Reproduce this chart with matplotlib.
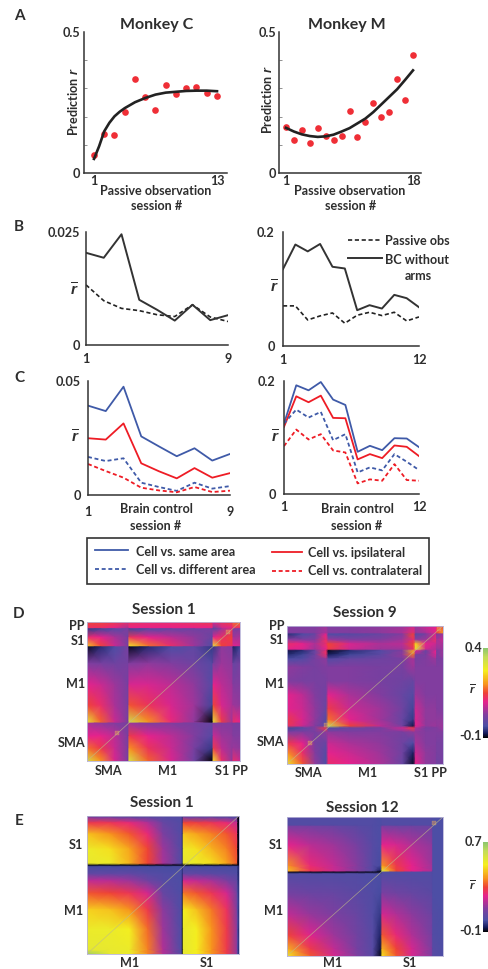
import numpy as np
import matplotlib
matplotlib.use("Agg")
import matplotlib.pyplot as plt
from matplotlib.colors import LinearSegmentedColormap
from matplotlib.cm import ScalarMappable
from matplotlib.colors import Normalize
from matplotlib.patches import Rectangle

W, H = 489, 969
FONT = "Lato"
plt.rcParams["font.family"] = [FONT, "DejaVu Sans"]
plt.rcParams["mathtext.fontset"] = "custom"
plt.rcParams["mathtext.it"] = "Liberation Sans:italic:bold"
plt.rcParams["mathtext.rm"] = "Liberation Sans:bold"
TXT = "#2e2e2e"
AX = "#333333"
BLUE = "#3f5aa8"
RED = "#ee1c25"
FS = 9.1

# ---------- panel A ----------
sess_c = [1, 2, 3, 4, 5, 6, 7, 8, 9, 10, 11, 12, 13]
pred_c = [.065, .139, .135, .217, .335, .268, .223, .313, .280, .301, .305, .285, .274]
fit_c_x = [1, 1.5, 2, 2.5, 3, 3.5, 4, 5, 6, 7, 8, 9, 10, 11, 12, 13]
fit_c_y = [.050, .095, .148, .178, .201, .217, .230, .251, .266, .278, .285, .288, .291, .292, .292, .290]
sess_m = [1, 2, 3, 4, 5, 6, 7, 8, 9, 10, 11, 12, 13, 14, 15, 16, 17]
pred_m = [.164, .117, .151, .105, .160, .130, .117, .130, .220, .128, .182, .247, .197, .218, .332, .260, .420]
fit_m_y = [.160, .147, .137, .131, .128, .130, .136, .147, .159, .176, .193, .216, .243, .270, .297, .330, .364]

# ---------- panel B ----------
bc_c = [.0204, .0193, .0245, .0100, .0078, .0054, .0089, .0055, .0066]
po_c = [.0133, .0098, .0081, .0076, .0067, .0063, .0089, .0062, .0052]
bc_m = [.135, .178, .166, .179, .139, .136, .0628, .0716, .0657, .0897, .0839, .068]
po_m = [.0704, .0704, .0457, .0528, .058, .0399, .054, .0592, .0534, .0592, .044, .051]

# ---------- panel C ----------
same_c = [.0392, .0368, .0475, .0257, .0213, .017, .0205, .0151, .018]
ipsi_c = [.0249, .0243, .0314, .0139, .0104, .0073, .0118, .0076, .0096]
diff_c = [.0167, .0149, .0161, .0054, .0035, .0018, .0054, .0028, .0039]
cont_c = [.0136, .0105, .0076, .0032, .002, .0012, .0035, .0013, .0019]
same_m = [.1247, .1924, .1835, .1982, .1671, .1576, .0747, .0853, .0776, .0988, .0982, .0829]
ipsi_m = [.1188, .1729, .1624, .1741, .1347, .1341, .0612, .0706, .0635, .0859, .0835, .0671]
diff_m = [.1247, .1494, .1353, .1453, .0953, .1059, .0382, .0471, .0418, .0706, .0571, .0424]
cont_m = [.0847, .1141, .0965, .1059, .0771, .0735, .0188, .0259, .0235, .0529, .0247, .0235]

# ---------- panel D, E: matrices sampled at nodes (fractions of the width / height) ----------
d1_x = [0, .09, .18, .27, .275, .40, .55, .70, .82, .825, .88, .95, .955, 1]
d1_y = [0, .045, .05, .11, .175, .18, .30, .45, .60, .72, .73, .82, .91, 1]
d1_z = [
    [.15, .15, .14, .12, .13, .12, .12, .13, .14, .10, .13, .15, .18, .18],
    [.12, .12, .10, .05, .10, .10, .10, .10, .10, .00, .08, .10, .12, .12],
    [-.05, -.04, -.02, .02, -.04, -.02, .00, .01, .02, -.02, .05, .12, .02, .03],
    [.12, .10, .06, .02, .13, .10, .07, .04, .00, .10, .12, .15, .05, .06],
    [.25, .15, .08, .02, .28, .18, .12, .05, -.03, .28, .15, .12, .10, .08],
    [-.09, -.06, -.03, .02, -.09, -.06, -.03, -.01, -.05, -.05, .04, .03, -.07, -.04],
    [.03, .02, .01, .02, .03, .04, .03, .01, -.02, .02, .05, .04, .00, .02],
    [.10, .08, .05, .02, .09, .09, .07, .04, -.02, .10, .07, .05, .03, .03],
    [.15, .12, .06, .02, .16, .13, .09, .05, -.04, .15, .09, .06, .05, .04],
    [.30, .17, .08, .02, .33, .20, .11, .04, -.10, .30, .14, .05, .12, .10],
    [.06, .04, .03, .02, .05, .03, .03, .02, .00, .03, .03, .03, .02, .02],
    [.10, .10, .07, .02, .14, .10, .07, .03, -.02, .08, .05, .04, .03, .03],
    [.18, .14, .08, .02, .20, .13, .08, .02, -.05, .14, .07, .04, .05, .04],
    [.32, .20, .09, .02, .32, .17, .09, .01, -.10, .28, .12, .04, .12, .08],
]
d1_spot_x = [.195, .92]
d1_spot_y = [.80, .07]

d2_x = [0, .10, .18, .25, .265, .40, .60, .74, .81, .825, .89, .955, .96, 1]
d2_y = [0, .05, .06, .10, .13, .17, .18, .21, .24, .30, .40, .50, .60, .68, .725, .74, .77, .85, .92, 1]
d2_z = [
    [.03, .03, .03, .05, .03, .03, .04, .05, .08, .05, .08, .10, .12, .15],
    [.03, .03, .03, .06, .03, .03, .04, .06, .12, .04, .06, .10, .15, .22],
    [-.06, -.03, .00, .10, -.03, -.02, .00, .03, .15, -.02, .02, .09, .02, .05],
    [.04, .03, .03, .12, .05, .03, .03, .05, .12, .04, .05, .12, .05, .08],
    [.12, .10, .06, .12, .15, .09, .06, .07, .15, .25, .10, .08, .06, .06],
    [.10, .09, .05, .10, .14, .08, .05, .05, .12, .30, .08, .06, .04, .05],
    [-.08, -.06, .00, .12, -.09, -.06, -.02, .03, .22, .10, .00, .10, .02, .05],
    [-.06, -.04, .01, .12, -.07, -.04, -.01, .04, .18, .02, .02, .09, .02, .05],
    [-.03, -.02, .02, .04, -.02, .00, .01, .02, .06, .02, .03, .05, .02, .03],
    [.04, .03, .02, .03, .03, .03, .02, .02, .05, .03, .03, .03, .03, .03],
    [.03, .02, .02, .02, .03, .03, .02, .01, .00, .03, .03, .03, .03, .03],
    [.10, .07, .03, .01, .10, .06, .03, .00, -.02, .05, .03, .03, .03, .03],
    [.10, .08, .04, .00, .14, .08, .05, .01, -.04, .08, .04, .04, .03, .03],
    [.14, .09, .04, -.02, .18, .10, .05, .00, -.05, .09, .04, .04, .04, .04],
    [.13, .08, .03, -.02, .33, .15, .07, .01, -.08, .10, .04, .05, .04, .05],
    [-.04, -.02, .03, .14, -.03, .00, .02, .08, .14, .06, .02, .03, .03, .05],
    [.03, .03, .02, .04, .04, .03, .03, .02, .04, .04, .03, .03, .03, .03],
    [.14, .10, .02, .00, .08, .06, .04, .01, -.03, .06, .03, .03, .02, .02],
    [.20, .12, .03, -.02, .10, .08, .05, .01, -.07, .08, .04, .03, .02, .02],
    [.28, .16, .04, -.03, .12, .10, .06, .00, -.09, .10, .04, .03, .01, .02],
]
d2_spot_x = [.15, .25, .975]
d2_spot_y = [.85, .72, .025]

e1_x = [0, .15, .28, .40, .50, .622, .628, .634, .72, .82, .92, .988, .993, 1]
e1_y = [0, .012, .05, .13, .24, .345, .358, .368, .42, .47, .56, .68, .82, .97, 1]
e1_z = [
    [-.08, -.08, -.08, -.06, -.04, -.03, -.05, -.07, -.08, -.08, -.08, -.08, -.09, -.09],
    [.12, .10, .07, .05, .03, .02, -.03, .10, .08, .08, .05, .02, -.09, -.09],
    [.28, .27, .24, .16, .06, .02, -.03, .30, .29, .27, .24, .18, -.09, -.09],
    [.44, .38, .32, .24, .10, .02, -.04, .44, .40, .36, .32, .26, -.09, -.09],
    [.52, .48, .40, .30, .14, .02, -.04, .52, .48, .42, .36, .30, -.09, -.09],
    [.53, .52, .42, .30, .15, .02, -.05, .54, .52, .48, .40, .32, -.09, -.09],
    [-.09, -.09, -.09, -.09, -.09, -.09, -.09, -.09, -.09, -.09, -.09, -.09, -.09, -.09],
    [.00, .00, .00, .00, .00, .00, -.03, .00, .00, .00, .00, .00, -.03, -.05],
    [.05, .05, .05, .03, .02, .01, -.04, .05, .05, .04, .03, .02, -.03, -.05],
    [.18, .17, .14, .08, .03, .01, -.05, .20, .18, .15, .10, .05, -.02, -.05],
    [.32, .30, .27, .20, .06, .01, -.06, .35, .32, .27, .20, .08, .00, -.05],
    [.46, .44, .38, .28, .12, .01, -.07, .50, .44, .35, .26, .10, .00, -.05],
    [.52, .52, .50, .34, .14, .01, -.08, .53, .50, .38, .28, .12, .00, -.06],
    [.54, .53, .52, .36, .16, .01, -.09, .54, .50, .38, .28, .12, .00, -.06],
    [.68, .54, .52, .36, .16, .01, -.09, .54, .50, .38, .28, .12, .00, -.06],
]

e2_x = [0, .15, .30, .45, .55, .60, .61, .70, .80, .93, .935, 1]
e2_y = [0, .06, .068, .20, .35, .385, .392, .398, .41, .55, .70, .85, .95, 1]
e2_z = [
    [.02, .02, .02, .02, .02, .01, .02, .02, .02, .02, .01, .01],
    [.02, .02, .02, .02, .02, .01, .02, .02, .02, .02, .01, .01],
    [.10, .09, .07, .04, .02, .01, .10, .08, .08, .07, .01, .01],
    [.22, .17, .14, .09, .03, .01, .22, .20, .16, .12, .01, .01],
    [.38, .24, .18, .11, .03, .00, .38, .28, .22, .14, .01, .01],
    [.44, .27, .19, .11, .03, -.05, .50, .30, .22, .15, .01, .01],
    [.40, .25, .18, .10, .03, -.08, .55, .30, .22, .15, .01, .01],
    [-.09, -.09, -.09, -.09, -.09, -.09, .02, .02, .02, .02, .01, .01],
    [.02, .02, .02, .02, .01, .01, .02, .02, .02, .02, .01, .01],
    [.09, .07, .06, .04, .02, .00, .10, .08, .06, .04, .01, .01],
    [.18, .13, .10, .06, .02, -.02, .20, .16, .12, .07, .02, .01],
    [.30, .21, .14, .08, .03, -.05, .32, .24, .16, .09, .02, .01],
    [.42, .28, .18, .09, .03, -.07, .42, .30, .20, .10, .03, .01],
    [.50, .32, .20, .10, .03, -.09, .48, .32, .20, .10, .03, .01],
]
e2_spot_x = [.945]
e2_spot_y = [.045]

cmap_stops = [(0, "#000000"), (.05, "#141a5a"), (.13, "#4a4fa5"), (.25, "#7b3fa0"),
              (.40, "#e6228c"), (.50, "#ef4136"), (.60, "#f7941d"), (.75, "#f5ee1f"),
              (.90, "#c4dc5a"), (1, "#8cc66e")]
CM = LinearSegmentedColormap.from_list("rbar", cmap_stops)

fig = plt.figure(figsize=(W / 100, H / 100), dpi=100)


def axpx(x0, y0, x1, y1):
    return fig.add_axes([x0 / W, 1 - y1 / H, (x1 - x0) / W, (y1 - y0) / H])


def txt(x, y, s, size=FS, ha="center", va="center", weight="bold", **kw):
    return fig.text(x / W, 1 - y / H, s, fontsize=size, ha=ha, va=va, color=TXT, weight=weight, **kw)


def line_axes(box, x_first, x_last, x_vals, ymax, xticklabels, xpad, ylabels=None, ypad=1):
    ax = axpx(*box)
    per = (x_last - x_first) / (x_vals[1] - x_vals[0])
    ax.set_xlim(x_vals[0] - (x_first - box[0]) / per, x_vals[1] + (box[2] - x_last) / per)
    ax.set_ylim(0, ymax)
    for s in ("top", "right"):
        ax.spines[s].set_visible(False)
    for s in ("left", "bottom"):
        ax.spines[s].set_linewidth(1.1)
        ax.spines[s].set_color(AX)
    ax.set_xticks(x_vals)
    ax.set_xticklabels(xticklabels, fontsize=FS, color=TXT, weight="bold")
    ax.tick_params(axis="x", length=0, pad=xpad)
    ax.set_yticks([0, ymax])
    ax.set_yticklabels(["0", ylabels if ylabels else str(ymax)], fontsize=FS, color=TXT, weight="bold")
    ax.tick_params(axis="y", length=0, pad=ypad)
    ax.patch.set_alpha(0)
    return ax


for (x, y, s) in [(19, 16, "A"), (19, 227, "B"), (19, 378, "C"), (19, 614, "D"), (19, 821, "E")]:
    txt(x, y, s, size=11, weight="bold")

# ---- A ----
a1 = line_axes((84, 32, 227, 173), 94, 217, (1, 13), .5, ["1", "13"], 1.5, "0.5", 3)
a1.set_yticks(np.arange(.1, .5, .1), minor=True)
a1.tick_params(axis="y", which="minor", direction="in", length=2, width=.5, color="#666666")
a1.scatter(sess_c, pred_c, s=23, color=RED, zorder=2, linewidths=0, alpha=.92, clip_on=False)
a1.plot(fit_c_x, fit_c_y, color="#222222", lw=1.9, zorder=3, solid_joinstyle="round")
a2 = line_axes((279, 32, 421, 173), 286, 413, (1, 17), .5, ["1", "18"], 1.5, "0.5", 2)
a2.set_yticks(np.arange(.1, .5, .1), minor=True)
a2.tick_params(axis="y", which="minor", direction="in", length=2, width=.5, color="#666666")
a2.scatter(sess_m, pred_m, s=23, color=RED, zorder=2, linewidths=0, alpha=.92, clip_on=False)
a2.plot(sess_m, fit_m_y, color="#222222", lw=1.9, zorder=3, solid_joinstyle="round")
txt(157, 25, "Monkey C", size=11.5)
txt(347, 25, "Monkey M", size=11.5)
txt(73, 102, "Prediction $r$", rotation=90)
txt(267, 100, "Prediction $r$", rotation=90)
txt(156, 191, "Passive observation")
txt(157, 206, "session #")
txt(350, 191, "Passive observation")
txt(351, 206, "session #")

# ---- B ----
x9 = np.arange(1, 10)
x12 = np.arange(1, 13)
b1 = line_axes((86, 232, 228, 345), 86, 228, (1, 9), .025, ["1", "9"], 6, "0.025", 4)
b1.plot(x9, po_c, color="#222222", lw=1.2, ls=(0, (2.5, 1.6)))
b1.plot(x9, bc_c, color="#333333", lw=1.4)
b2 = line_axes((283, 232, 419, 346), 283, 419, (1, 12), .2, ["1", "12"], 6, "0.2", 6)
b2.plot(x12, po_m, color="#222222", lw=1.2, ls=(0, (2.5, 1.6)))
b2.plot(x12, bc_m, color="#333333", lw=1.4)
txt(74, 290, r"$\overline{r}$", size=11)
txt(274, 287, r"$\overline{r}$", size=11)
fig.add_artist(plt.Line2D([348 / W, 382 / W], [1 - 240 / H] * 2, color="#222222", lw=1.2, ls=(0, (2.5, 1.6))))
fig.add_artist(plt.Line2D([348 / W, 382 / W], [1 - 258 / H] * 2, color="#333333", lw=1.4))
txt(385, 241, "Passive obs", ha="left")
txt(385, 260, "BC without", ha="left")
txt(418, 276, "arms")

# ---- C ----
c1 = line_axes((88, 381, 230, 495), 88, 230, (1, 9), .05, ["1", "9"], 8, "0.05", 5)
c2 = line_axes((284, 381, 419, 494), 284, 419, (1, 12), .2, ["1", "12"], 5, "0.2", 6)
for ax, xs, same, diff, ipsi, cont in [(c1, x9, same_c, diff_c, ipsi_c, cont_c), (c2, x12, same_m, diff_m, ipsi_m, cont_m)]:
    ax.plot(xs, same, color=BLUE, lw=1.3)
    ax.plot(xs, ipsi, color=RED, lw=1.3)
    ax.plot(xs, diff, color=BLUE, lw=1.3, ls=(0, (2.2, 1.5)))
    ax.plot(xs, cont, color=RED, lw=1.3, ls=(0, (2.2, 1.5)))
txt(75, 437, r"$\overline{r}$", size=11)
txt(275, 437, r"$\overline{r}$", size=11)
txt(156, 509, "Brain control")
txt(156, 526, "session #")
txt(357, 509, "Brain control")
txt(357, 526, "session #")

# legend box
fig.add_artist(Rectangle((87 / W, 1 - 584 / H), (429 - 87) / W, 46 / H, transform=fig.transFigure,
                         fc="white", ec="#333333", lw=1.2))
for (x0, x1, y, c, ls) in [(95, 128, 550, BLUE, "-"), (95, 128, 569, BLUE, (0, (2.2, 1.5))),
                           (272, 302, 552, RED, "-"), (272, 302, 571, RED, (0, (2.2, 1.5)))]:
    fig.add_artist(plt.Line2D([x0 / W, x1 / W], [1 - y / H] * 2, color=c, lw=1.3, ls=ls))
txt(136, 552, "Cell vs. same area", ha="left")
txt(136, 570, "Cell vs. different area", ha="left")
txt(308, 553, "Cell vs. ipsilateral", ha="left")
txt(308, 571, "Cell vs. contralateral", ha="left")


# ---- heat maps ----
def heat(box, xn, yn, z, vmin, vmax, spots=None):
    ax = axpx(*box)
    X, Y = np.meshgrid(xn, yn)
    ax.pcolormesh(X, Y, np.array(z), shading="gouraud", cmap=CM, vmin=vmin, vmax=vmax, rasterized=True)
    ax.set_xlim(0, 1)
    ax.set_ylim(1, 0)
    ax.set_xticks([])
    ax.set_yticks([])
    for s in ax.spines.values():
        s.set_color("#b9b4d8")
        s.set_linewidth(.6)
    ax.plot([0, 1], [1, 0], color="#c0bb88", lw=.5, alpha=.75)
    if spots is not None:
        ax.scatter(spots[0], spots[1], s=9, marker="s", color="#f0a050", alpha=.45, linewidths=.3, edgecolors="#e8d080")
    return ax


def cbar(y0, y1, vmin, vmax):
    cax = axpx(483, y0, 489, y1)
    fig.colorbar(ScalarMappable(Normalize(vmin, vmax), CM), cax=cax)
    cax.set_yticks([])
    for s in cax.spines.values():
        s.set_visible(False)
    return cax


heat((87, 622, 240, 761), d1_x, d1_y, d1_z, -.1, .4, (d1_spot_x, d1_spot_y))
heat((287, 626, 443, 764), d2_x, d2_y, d2_z, -.1, .4, (d2_spot_x, d2_spot_y))
heat((87, 816, 239, 954), e1_x, e1_y, e1_z, -.1, .7)
heat((287, 817, 443, 956), e2_x, e2_y, e2_z, -.1, .7, (e2_spot_x, e2_spot_y))
cbar(648, 738, -.1, .4)
cbar(842, 932, -.1, .7)

txt(164, 610, "Session 1", size=11)
txt(365, 613, "Session 9", size=11)
txt(162, 803, "Session 1", size=11)
txt(362, 808, "Session 12", size=11)
for (x, y, s) in [(85, 626, "PP"), (85, 641, "S1"), (85, 684, "M1"), (85, 743, "SMA"),
                  (284, 626, "PP"), (284, 640, "S1"), (284, 684, "M1"), (284, 742, "SMA"),
                  (83, 845, "S1"), (83, 911, "M1"), (283, 845, "S1"), (283, 911, "M1")]:
    txt(x, y, s, ha="right")
for (x, y, s) in [(109, 771, "SMA"), (168, 771, "M1"), (231, 771, "S1 PP"),
                  (309, 773, "SMA"), (368, 773, "M1"), (430, 773, "S1 PP"),
                  (130, 963, "M1"), (207, 963, "S1"), (333, 963, "M1"), (410, 963, "S1")]:
    txt(x, y, s)
txt(482, 648, "0.4", ha="right")
txt(482, 736, "-0.1", ha="right")
txt(472, 689, r"$\overline{r}$", size=8)
txt(482, 842, "0.7", ha="right")
txt(482, 931, "-0.1", ha="right")
txt(472, 885, r"$\overline{r}$", size=8)

fig.savefig("out.png", dpi=100)
